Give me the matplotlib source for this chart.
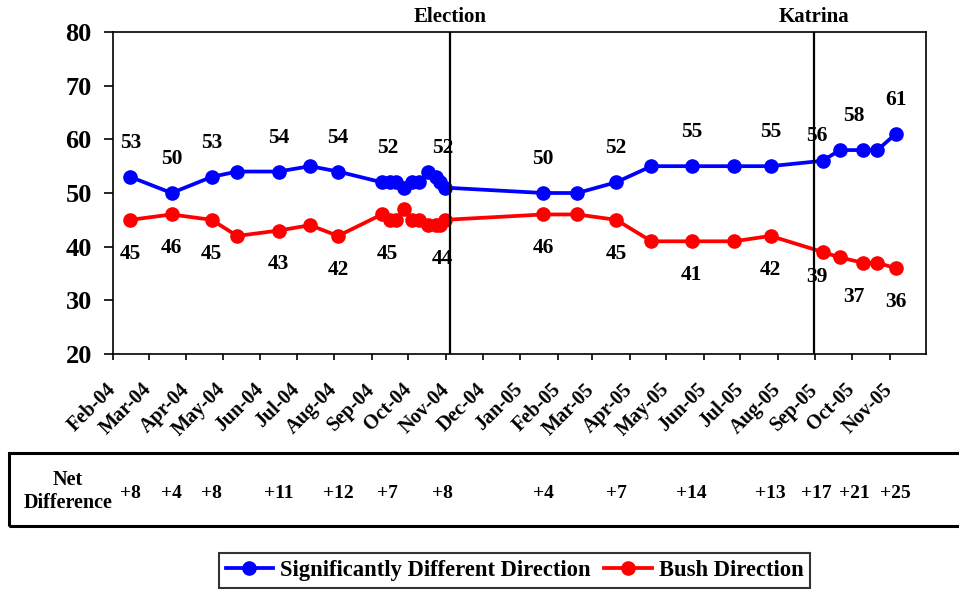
import matplotlib
matplotlib.use("Agg")
import matplotlib.pyplot as plt
import matplotlib.dates as mdates
import matplotlib.transforms as mtransforms
from matplotlib.patches import Rectangle
from datetime import datetime

plt.rcParams['font.family'] = ['Liberation Serif', 'DejaVu Serif']
plt.rcParams['font.weight'] = 'bold'

# poll dates and results
poll_dates = ["2004-02-15", "2004-03-20", "2004-04-22", "2004-05-13", "2004-06-16",
              "2004-07-12", "2004-08-04", "2004-09-09", "2004-09-16", "2004-09-21",
              "2004-09-27", "2004-10-04", "2004-10-10", "2004-10-17", "2004-10-24",
              "2004-10-27", "2004-10-31", "2005-01-20", "2005-02-17", "2005-03-21",
              "2005-04-19", "2005-05-22", "2005-06-26", "2005-07-26", "2005-09-07",
              "2005-09-21", "2005-10-10", "2005-10-22", "2005-11-06"]
different = [53, 50, 53, 54, 54, 55, 54, 52, 52, 52, 51, 52, 52, 54, 53, 52, 51,
             50, 50, 52, 55, 55, 55, 55, 56, 58, 58, 58, 61]
bush = [45, 46, 45, 42, 43, 44, 42, 46, 45, 45, 47, 45, 45, 44, 44, 44, 45,
        46, 46, 45, 41, 41, 41, 42, 39, 38, 37, 37, 36]

# labelled readings (also used for the net difference row)
label_dates = ["2004-02-15", "2004-03-20", "2004-04-22", "2004-06-16", "2004-08-04",
               "2004-09-14", "2004-10-29", "2005-01-20", "2005-03-21", "2005-05-22",
               "2005-07-26", "2005-09-02", "2005-10-03", "2005-11-06"]
label_different = [53, 50, 53, 54, 54, 52, 52, 50, 52, 55, 55, 56, 58, 61]
label_bush = [45, 46, 45, 43, 42, 45, 44, 46, 45, 41, 42, 39, 37, 36]

event_names = ["Election", "Katrina"]
event_dates = ["2004-11-04", "2005-08-31"]

month_labels = ["Feb-04", "Mar-04", "Apr-04", "May-04", "Jun-04", "Jul-04", "Aug-04",
                "Sep-04", "Oct-04", "Nov-04", "Dec-04", "Jan-05", "Feb-05", "Mar-05",
                "Apr-05", "May-05", "Jun-05", "Jul-05", "Aug-05", "Sep-05", "Oct-05",
                "Nov-05"]

def d(s):
    return mdates.date2num(datetime.strptime(s, "%Y-%m-%d"))

x = [d(s) for s in poll_dates]
lx = [d(s) for s in label_dates]
ticks = [mdates.date2num(datetime.strptime(m, "%b-%y")) for m in month_labels]

W, H = 959, 589
fig = plt.figure(figsize=(W / 100, H / 100), dpi=100)
ax = fig.add_axes([113.3 / W, 1 - 354 / H, (926 - 113.3) / W, 322 / H])

blue = "#0000FF"
red = "#FF0000"
ax.plot(x, different, color=blue, lw=2.7, marker='o', ms=9.5,
        label="Significantly Different Direction", zorder=3)
ax.plot(x, bush, color=red, lw=2.7, marker='o', ms=9.5,
        label="Bush Direction", zorder=3)

katrina_label = d("2005-09-02")
for dt, v1, v2 in zip(lx, label_different, label_bush):
    off = 4.6 if dt == katrina_label else 6.3
    ax.text(dt, v1 + off, str(v1), ha='center', va='center', fontsize=15.5)
    ax.text(dt, v2 - off, str(v2), ha='center', va='center', fontsize=15.5)

top = mtransforms.blended_transform_factory(ax.transData, ax.transAxes)
for name, ds in zip(event_names, event_dates):
    ax.axvline(d(ds), color='black', lw=1.6, zorder=4)
    ax.text(d(ds), 1.048, name, transform=top, ha='center', va='center', fontsize=15)

ax.set_ylim(20, 80)
ax.set_yticks(range(20, 81, 10))
ax.set_xlim(d("2004-02-01"), d("2005-12-01"))
ax.set_xticks(ticks)
ax.set_xticklabels(month_labels, rotation=45, ha='right', va='center',
                   rotation_mode='anchor', fontsize=14.5)
shift = mtransforms.ScaledTranslation(-7 / 100, 0, fig.dpi_scale_trans)
for lbl in ax.get_xticklabels():
    lbl.set_transform(lbl.get_transform() + shift)
ax.tick_params(axis='y', labelsize=19, length=6.5, width=1.2, pad=9, direction='out')
ax.tick_params(axis='x', length=4.5, width=1.2, pad=19, direction='out')
for sp in ax.spines.values():
    sp.set_linewidth(1.2)

# net difference row
fig.add_artist(Rectangle((9 / W, 1 - 526 / H), 1.0, 73 / H, transform=fig.transFigure,
                         fill=False, lw=2.2, edgecolor='black', clip_on=False))
fig.text(68 / W, 1 - 480 / H, "Net", ha='center', va='center', fontsize=14.5)
fig.text(68 / W, 1 - 503 / H, "Difference", ha='center', va='center', fontsize=14.5)
row = mtransforms.blended_transform_factory(ax.transData, fig.transFigure)
for dt, v1, v2 in zip(lx, label_different, label_bush):
    fig.text(dt, 1 - 494 / H, "+%d" % (v1 - v2), transform=row,
             ha='center', va='center', fontsize=14)

leg = fig.legend(loc='upper center', bbox_to_anchor=(514.5 / W, 1 - 553 / H), ncol=2,
                 frameon=True, fancybox=False, edgecolor='black', fontsize=16.3,
                 handlelength=2.1, handletextpad=0.3, columnspacing=0.6,
                 borderpad=0.3, borderaxespad=0)
leg.get_frame().set_linewidth(1.5)

fig.savefig("out.png", dpi=100)
